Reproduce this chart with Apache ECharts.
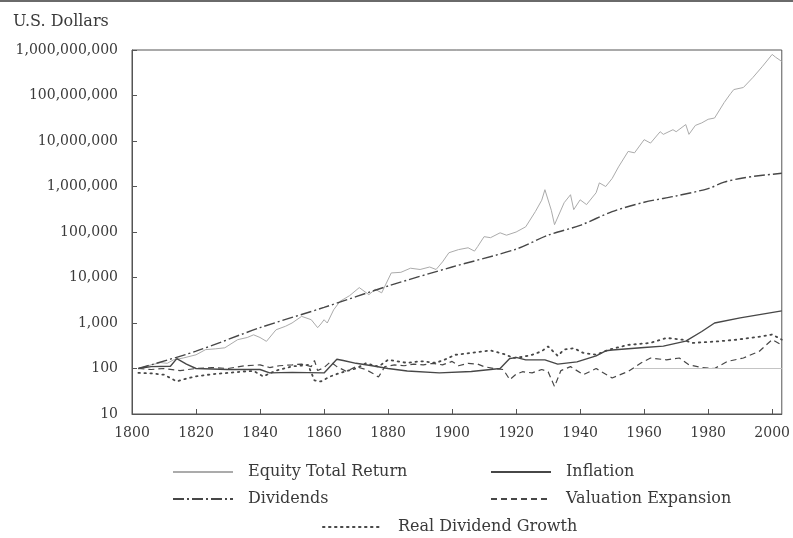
<!DOCTYPE html>
<html>
<head>
<meta charset="utf-8">
<script src="https://cdn.jsdelivr.net/npm/echarts@6/dist/echarts.min.js"></script>
<style>
  html, body { margin: 0; padding: 0; background: #fff; }
  #chart { width: 793px; height: 538px; }
</style>
</head>
<body>
<div id="chart"></div>
<script>
// 数据
const equity = [
  [1802, 100], [1806, 120], [1809, 135], [1811, 130], [1813, 155], [1816, 170], [1820, 200],
  [1823, 260], [1826, 270], [1829, 285], [1833, 430], [1836, 480], [1838, 550], [1840, 480],
  [1842, 395], [1845, 710], [1848, 850], [1850, 1000], [1853, 1400], [1856, 1180], [1858, 790],
  [1859, 950], [1860, 1180], [1861, 1000], [1863, 1950], [1865, 3000], [1868, 4000], [1871, 6000],
  [1874, 4200], [1876, 5500], [1878, 4600], [1881, 12600], [1884, 13000], [1887, 16000],
  [1890, 15000], [1893, 17000], [1895, 15000], [1897, 22000], [1899, 35000], [1902, 41000],
  [1905, 45000], [1907, 38000], [1908, 48000], [1910, 79000], [1912, 75000], [1915, 96000],
  [1917, 85000], [1920, 100000], [1923, 130000], [1926, 280000], [1928, 500000], [1929, 850000],
  [1931, 300000], [1932, 145000], [1935, 440000], [1937, 660000], [1938, 310000], [1940, 510000],
  [1942, 400000], [1945, 730000], [1946, 1200000], [1948, 1000000], [1950, 1500000],
  [1952, 2700000], [1955, 5900000], [1957, 5500000], [1960, 10700000], [1962, 9000000],
  [1965, 16000000], [1966, 14000000], [1969, 17700000], [1970, 16000000], [1973, 23000000],
  [1974, 14000000], [1976, 22000000], [1978, 25000000], [1980, 30000000], [1982, 32000000],
  [1985, 70000000], [1987, 110000000], [1988, 135000000], [1991, 150000000], [1994, 250000000],
  [1997, 440000000], [2000, 800000000], [2001, 700000000], [2003, 560000000]
];
const inflation = [
  [1802, 100], [1806, 110], [1812, 112], [1814, 165], [1817, 125], [1820, 100], [1830, 95],
  [1840, 95], [1843, 80], [1850, 82], [1860, 80], [1864, 160], [1866, 150], [1870, 130],
  [1875, 115], [1880, 100], [1886, 88], [1896, 80], [1906, 86], [1915, 100], [1918, 165],
  [1920, 175], [1923, 155], [1929, 155], [1933, 125], [1939, 140], [1945, 190], [1948, 245],
  [1950, 255], [1960, 290], [1966, 310], [1973, 400], [1978, 650], [1982, 1000], [1990, 1300],
  [2003, 1850]
];
const dividends = [
  [1802, 100], [1820, 240], [1840, 790], [1860, 2200], [1880, 6500], [1900, 17000],
  [1920, 42000], [1930, 85000], [1940, 140000], [1950, 280000], [1960, 450000], [1970, 620000],
  [1980, 900000], [1985, 1250000], [1990, 1500000], [1995, 1700000], [2003, 1950000]
];
const valuation = [
  [1802, 100], [1806, 95], [1810, 100], [1815, 90], [1820, 100], [1825, 105], [1830, 100],
  [1835, 115], [1840, 120], [1843, 105], [1846, 115], [1850, 120], [1853, 125], [1856, 110],
  [1857, 150], [1858, 90], [1860, 105], [1862, 140], [1864, 110], [1867, 86], [1870, 110],
  [1873, 95], [1875, 80], [1877, 65], [1879, 110], [1882, 120], [1885, 115], [1888, 125],
  [1891, 120], [1894, 130], [1897, 120], [1900, 143], [1902, 115], [1905, 130], [1908, 125],
  [1910, 110], [1913, 100], [1916, 95], [1918, 57], [1920, 75], [1922, 85], [1925, 80],
  [1928, 95], [1930, 85], [1932, 40], [1934, 90], [1937, 110], [1941, 73], [1945, 100],
  [1950, 62], [1955, 86], [1959, 132], [1962, 170], [1967, 155], [1971, 170], [1974, 120],
  [1978, 105], [1982, 100], [1986, 143], [1991, 170], [1996, 240], [2000, 430], [2003, 330]
];
const realDividend = [
  [1802, 80], [1806, 78], [1810, 73], [1814, 52], [1817, 60], [1820, 67], [1825, 75],
  [1830, 80], [1835, 86], [1838, 88], [1841, 67], [1845, 90], [1850, 111], [1855, 120],
  [1857, 55], [1859, 52], [1862, 67], [1865, 80], [1870, 100], [1873, 130], [1877, 110],
  [1880, 155], [1886, 133], [1890, 145], [1895, 133], [1898, 160], [1901, 200], [1906, 220],
  [1912, 250], [1917, 200], [1919, 170], [1922, 180], [1925, 200], [1928, 240], [1930, 305],
  [1933, 190], [1935, 260], [1938, 280], [1941, 220], [1945, 200], [1949, 260], [1955, 330],
  [1962, 365], [1967, 470], [1972, 430], [1975, 365], [1983, 395], [1989, 430], [1997, 510],
  [2000, 560], [2003, 430]
];
const baseline = [[1957, 100], [2003, 100]];
const yearTicks = [1800, 1820, 1840, 1860, 1880, 1900, 1920, 1940, 1960, 1980, 2000];

const font = 'DejaVu Serif';
const txt = '#3a3a3a';
const dark = '#474747';

const chart = echarts.init(document.getElementById('chart'));

// 图例：每项单独定位，只画线不画圆点
const legendAt = (name, left, top) => ({
  data: [name],
  left: left,
  top: top,
  padding: 0,
  itemWidth: 60,
  itemHeight: 12,
  selectedMode: false,
  itemStyle: { opacity: 0, color: 'transparent', borderWidth: 0 },
  textStyle: { fontFamily: font, fontSize: 16, color: txt, padding: [0, 0, 0, 10] }
});

const option = {
  animation: false,
  backgroundColor: '#fff',
  title: {
    text: 'U.S. Dollars',
    left: 8,
    top: 9,
    textStyle: { fontFamily: font, fontSize: 16, fontWeight: 'normal', color: txt }
  },
  graphic: [{
    type: 'rect',
    shape: { x: 0, y: 0, width: 793, height: 2 },
    style: { fill: '#6a6a6a' }
  }],
  legend: [
    legendAt('Equity Total Return', 172, 464),
    legendAt('Inflation', 490, 464),
    legendAt('Dividends', 172, 491),
    legendAt('Valuation Expansion', 490, 491),
    legendAt('Real Dividend Growth', 322, 519)
  ],
  grid: {
    left: 132, right: 10, top: 50, bottom: 124,
    show: true, borderColor: '#555', borderWidth: 1
  },
  xAxis: {
    type: 'value',
    min: 1800,
    max: 2003,
    interval: 20,
    axisLine: { lineStyle: { color: '#555', width: 1 } },
    axisTick: { inside: true, length: 5, lineStyle: { color: '#555' } },
    splitLine: { show: false },
    axisLabel: {
      showMaxLabel: false,
      margin: 12,
      fontFamily: font, fontSize: 14, color: txt,
      formatter: (v) => (yearTicks.indexOf(v) >= 0 ? String(v) : '')
    }
  },
  yAxis: {
    type: 'log',
    logBase: 10,
    min: 10,
    max: 1000000000,
    axisLine: { show: true, lineStyle: { color: '#555', width: 1 } },
    axisTick: { show: true, inside: true, length: 5, lineStyle: { color: '#555' } },
    splitLine: { show: false },
    minorTick: { show: false },
    axisLabel: {
      margin: 14,
      fontFamily: font, fontSize: 14, color: txt,
      formatter: (v) => Math.round(v).toLocaleString('en-US')
    }
  },
  series: [
    {
      name: 'Equity Total Return',
      type: 'line',
      data: equity,
      symbol: 'none',
      lineStyle: { color: '#ababab', width: 1 },
      itemStyle: { color: '#ababab' },
      z: 2,
      markLine: {
        silent: true,
        symbol: 'none',
        label: { show: false },
        lineStyle: { color: '#c4c4c4', type: 'solid', width: 1 },
        data: [[{ coord: baseline[0] }, { coord: baseline[1] }]]
      }
    },
    {
      name: 'Inflation',
      type: 'line',
      data: inflation,
      symbol: 'none',
      lineStyle: { color: dark, width: 1.4 },
      itemStyle: { color: dark },
      z: 3
    },
    {
      name: 'Dividends',
      type: 'line',
      data: dividends,
      symbol: 'none',
      smooth: 0.3,
      lineStyle: { color: dark, width: 1.4, type: [11, 3, 2, 3] },
      itemStyle: { color: dark },
      z: 3
    },
    {
      name: 'Valuation Expansion',
      type: 'line',
      data: valuation,
      symbol: 'none',
      lineStyle: { color: dark, width: 1.2, type: [6, 4] },
      itemStyle: { color: dark },
      z: 3
    },
    {
      name: 'Real Dividend Growth',
      type: 'line',
      data: realDividend,
      symbol: 'none',
      lineStyle: { color: dark, width: 1.8, type: [1.5, 4.5], cap: 'round' },
      itemStyle: { color: dark },
      z: 3
    }
  ]
};

chart.setOption(option);
</script>
</body>
</html>
